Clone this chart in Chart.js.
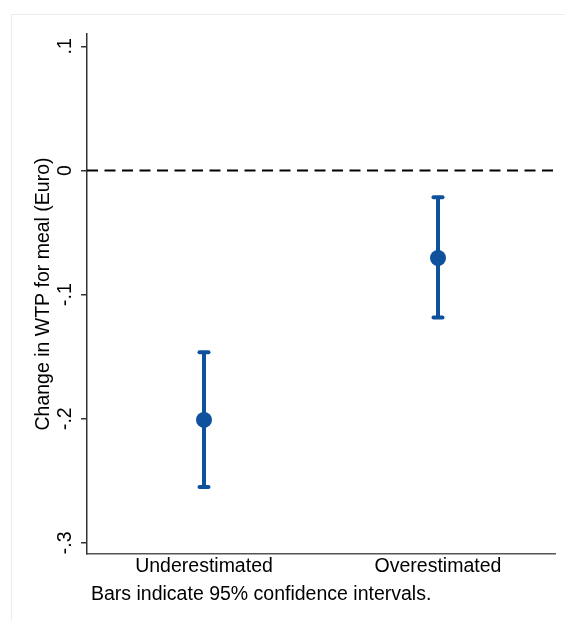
<!DOCTYPE html>
<html>
<head>
<meta charset="utf-8">
<script src="https://cdn.jsdelivr.net/npm/chart.js@4/dist/chart.umd.min.js"></script>
<style>
  html, body { margin: 0; padding: 0; background: #fff; }
  #wrap { width: 565px; height: 621px; }
</style>
</head>
<body>
<div id="wrap"><canvas id="c" width="565" height="621"></canvas></div>
<script>
// Point estimates with 95% confidence intervals
const categories = ['Underestimated', 'Overestimated'];
const estimates = [-0.201, -0.0705];
const ciLower = [-0.255, -0.1185];
const ciUpper = [-0.1465, -0.0215];
const yTicks = [-0.3, -0.2, -0.1, 0, 0.1];

const yTitle = 'Change in WTP for meal (Euro)';
const note = 'Bars indicate 95% confidence intervals.';

const BLUE = '#0f519c';
const FONT = '"Liberation Sans", Arial, sans-serif';
const FS = 19.5;

function fmtTick(v) {
  if (Math.abs(v) < 1e-9) return '0';
  const s = String(Math.abs(+v.toFixed(3))).replace(/^0/, '');
  return (v < 0 ? '-' : '') + s;
}

const decor = {
  id: 'decor',
  beforeDraw(chart) {
    const ctx = chart.ctx;
    ctx.save();
    ctx.fillStyle = '#fff';
    ctx.fillRect(0, 0, chart.width, chart.height);
    ctx.strokeStyle = '#e9eff1';
    ctx.lineWidth = 1;
    ctx.strokeRect(11.5, 14.5, chart.width, chart.height);
    ctx.restore();
  },
  beforeDatasetsDraw(chart) {
    const ctx = chart.ctx;
    const x = chart.scales.x, y = chart.scales.y;
    const area = chart.chartArea;
    ctx.save();
    // reference line at zero
    const y0 = y.getPixelForValue(0);
    ctx.strokeStyle = '#000';
    ctx.lineWidth = 2;
    ctx.setLineDash([11, 6.5]);
    ctx.beginPath();
    ctx.moveTo(area.left, y0);
    ctx.lineTo(area.right, y0);
    ctx.stroke();
    ctx.setLineDash([]);

    // confidence interval bars
    ctx.strokeStyle = BLUE;
    ctx.lineWidth = 4;
    categories.forEach((c, i) => {
      const px = x.getPixelForValue(i);
      const yl = y.getPixelForValue(ciLower[i]);
      const yu = y.getPixelForValue(ciUpper[i]);
      ctx.lineCap = 'butt';
      ctx.beginPath();
      ctx.moveTo(px, yu);
      ctx.lineTo(px, yl);
      ctx.stroke();
      ctx.lineCap = 'round';
      [yl, yu].forEach(yy => {
        ctx.beginPath();
        ctx.moveTo(px - 4.5, yy);
        ctx.lineTo(px + 4.5, yy);
        ctx.stroke();
      });
    });
    ctx.restore();
  },
  afterDraw(chart) {
    const ctx = chart.ctx;
    const x = chart.scales.x, y = chart.scales.y;
    const area = chart.chartArea;
    ctx.save();
    ctx.fillStyle = '#000';
    ctx.font = FS + 'px ' + FONT;

    // y tick labels, rotated
    ctx.textAlign = 'center';
    ctx.textBaseline = 'alphabetic';
    yTicks.forEach(v => {
      const py = y.getPixelForValue(v);
      ctx.save();
      ctx.translate(70.5, py);
      ctx.rotate(-Math.PI / 2);
      ctx.fillText(fmtTick(v), 0, 0);
      ctx.restore();
    });

    // y axis title
    ctx.save();
    ctx.translate(49, (area.top + area.bottom) / 2);
    ctx.rotate(-Math.PI / 2);
    ctx.fillText(yTitle, 0, 0);
    ctx.restore();

    // category labels
    categories.forEach((c, i) => {
      ctx.fillText(c, x.getPixelForValue(i), 572);
    });

    // note
    ctx.textAlign = 'left';
    ctx.fillText(note, 91, 600);
    ctx.restore();
  }
};

new Chart(document.getElementById('c'), {
  type: 'line',
  data: {
    labels: categories,
    datasets: [{
      data: estimates,
      showLine: false,
      pointRadius: 8,
      pointHoverRadius: 8,
      pointBackgroundColor: BLUE,
      pointBorderWidth: 0,
      borderColor: BLUE
    }]
  },
  options: {
    responsive: false,
    animation: false,
    events: [],
    layout: { padding: { left: 81, top: 34, right: 10, bottom: 59 } },
    plugins: { legend: { display: false }, tooltip: { enabled: false } },
    scales: {
      x: {
        type: 'category',
        offset: true,
        grid: { display: false },
        ticks: { display: false },
        border: { display: true, color: '#555', width: 1.5 }
      },
      y: {
        min: -0.309,
        max: 0.11,
        afterBuildTicks: s => { s.ticks = yTicks.map(v => ({ value: v })); },
        ticks: { display: false },
        grid: { display: true, drawOnChartArea: false, drawTicks: true, tickLength: 6, color: '#333', lineWidth: 1.5 },
        border: { display: true, color: '#333', width: 1.5 }
      }
    }
  },
  plugins: [decor]
});
</script>
</body>
</html>
